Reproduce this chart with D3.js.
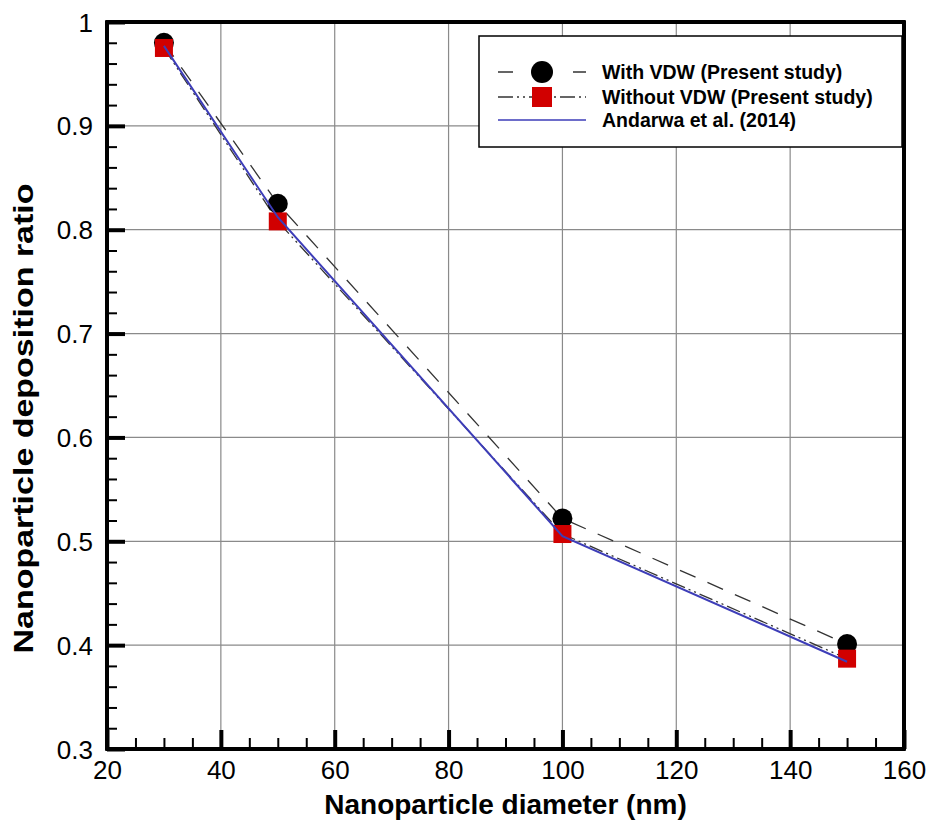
<!DOCTYPE html>
<html>
<head>
<meta charset="utf-8">
<script src="https://cdn.jsdelivr.net/npm/d3@7"></script>
<style>
  html, body { margin: 0; padding: 0; background: #fff; }
  svg { display: block; font-family: "Liberation Sans", Arial, sans-serif; }
</style>
</head>
<body>
<svg id="chart" width="930" height="820"></svg>
<script>
// Data
const diameters = [30, 50, 100, 150];
const withVDW = [0.980, 0.825, 0.522, 0.401];
const withoutVDW = [0.975, 0.808, 0.507, 0.387];
const andarwa = [0.977, 0.812, 0.505, 0.384];
const seriesNames = ["With VDW (Present study)", "Without VDW (Present study)", "Andarwa et al. (2014)"];
const xTicks = [20, 40, 60, 80, 100, 120, 140, 160];
const yTicks = [0.3, 0.4, 0.5, 0.6, 0.7, 0.8, 0.9, 1];
const yTickLabels = ["0.3", "0.4", "0.5", "0.6", "0.7", "0.8", "0.9", "1"];

const svg = d3.select("#chart");
const L = 107, R = 904, T = 22, B = 749;
const x = d3.scaleLinear().domain([20, 160]).range([L, R]);
const y = d3.scaleLinear().domain([0.3, 1]).range([B, T]);

// grid
const grid = svg.append("g");
grid.selectAll("line.gx").data(xTicks.slice(1, -1)).enter().append("line")
  .attr("x1", d => x(d)).attr("x2", d => x(d)).attr("y1", T).attr("y2", B)
  .attr("stroke", "#8a8a8a").attr("stroke-width", 1.2);
grid.selectAll("line.gy").data(yTicks.slice(1, -1)).enter().append("line")
  .attr("y1", d => y(d)).attr("y2", d => y(d)).attr("x1", L).attr("x2", R)
  .attr("stroke", "#8a8a8a").attr("stroke-width", 1.2);

// axes with inward ticks
const xMinor = d3.range(25, 160, 5).filter(v => v % 20 !== 0);
const yMinor = d3.range(0.32, 1.0, 0.02).map(v => +v.toFixed(2)).filter(v => Math.abs(v * 10 - Math.round(v * 10)) > 1e-6);

const xAxisMinor = d3.axisBottom(x).tickValues(xMinor).tickSize(-11).tickFormat("");
const xAxisMajor = d3.axisBottom(x).tickValues(xTicks).tickSize(-19).tickPadding(12).tickFormat(d3.format("d"));
const yAxisMinor = d3.axisLeft(y).tickValues(yMinor).tickSize(-10).tickFormat("");
const yAxisMajor = d3.axisLeft(y).tickValues(yTicks).tickSize(-18).tickPadding(14).tickFormat((d, i) => yTickLabels[i]);

function styleAxis(g) {
  g.select(".domain").remove();
  g.selectAll(".tick line").attr("stroke", "#000").attr("stroke-width", 2);
  g.selectAll("text").attr("font-size", 26).attr("fill", "#000");
}
svg.append("g").attr("transform", `translate(0,${B})`).call(xAxisMinor).call(styleAxis);
const gx = svg.append("g").attr("transform", `translate(0,${B})`).call(xAxisMajor).call(styleAxis);
gx.selectAll(".tick line").attr("stroke-width", 4);
svg.append("g").attr("transform", `translate(${L},0)`).call(yAxisMinor).call(styleAxis);
const gy = svg.append("g").attr("transform", `translate(${L},0)`).call(yAxisMajor).call(styleAxis);
gy.selectAll(".tick line").attr("stroke-width", 4);
gy.selectAll("text").attr("dy", "0.35em");

// frame
svg.append("line").attr("x1", L).attr("x2", L).attr("y1", T - 1.5).attr("y2", B + 1.5).attr("stroke", "#000").attr("stroke-width", 4);
svg.append("line").attr("x1", L - 1.5).attr("x2", R + 1.5).attr("y1", B).attr("y2", B).attr("stroke", "#000").attr("stroke-width", 4);
svg.append("line").attr("x1", L - 1.5).attr("x2", R + 1.5).attr("y1", T).attr("y2", T).attr("stroke", "#000").attr("stroke-width", 4);
svg.append("line").attr("x1", R).attr("x2", R).attr("y1", T - 1.5).attr("y2", B + 1.5).attr("stroke", "#000").attr("stroke-width", 4);

// lines
const line = d3.line().x(d => x(d[0])).y(d => y(d[1]));
const zip = arr => diameters.map((d, i) => [d, arr[i]]);
const blue = "#3d3db8";
const red = "#d10000";

svg.append("path").datum(zip(withVDW)).attr("d", line).attr("fill", "none")
  .attr("stroke", "#333").attr("stroke-width", 1.3).attr("stroke-dasharray", "17,13");
svg.append("path").datum(zip(withoutVDW)).attr("d", line).attr("fill", "none")
  .attr("stroke", "#333").attr("stroke-width", 1.3).attr("stroke-dasharray", "14,4,2,4,2,4");

// markers
svg.selectAll("circle.vdw").data(zip(withVDW)).enter().append("circle")
  .attr("cx", d => x(d[0])).attr("cy", d => y(d[1])).attr("r", 10).attr("fill", "#000");
const sq = 18;
svg.selectAll("rect.novdw").data(zip(withoutVDW)).enter().append("rect")
  .attr("x", d => x(d[0]) - sq / 2).attr("y", d => y(d[1]) - sq / 2)
  .attr("width", sq).attr("height", sq).attr("fill", red);

svg.append("path").datum(zip(andarwa)).attr("d", line).attr("fill", "none")
  .attr("stroke", blue).attr("stroke-width", 2);

// legend
const lg = svg.append("g");
lg.append("rect").attr("x", 479).attr("y", 36).attr("width", 423).attr("height", 111)
  .attr("fill", "#fff").attr("stroke", "#000").attr("stroke-width", 1.5);
const rows = [72, 97, 120];
const lx1 = 498, lx2 = 586, lmid = 542;
lg.append("line").attr("x1", lx1).attr("x2", lx2).attr("y1", rows[0]).attr("y2", rows[0])
  .attr("stroke", "#333").attr("stroke-width", 1.3).attr("stroke-dasharray", "15,60");
lg.append("circle").attr("cx", lmid).attr("cy", rows[0]).attr("r", 11).attr("fill", "#000");
lg.append("line").attr("x1", lx1).attr("x2", lx2).attr("y1", rows[1]).attr("y2", rows[1])
  .attr("stroke", "#333").attr("stroke-width", 1.3).attr("stroke-dasharray", "15,4,2,4,2,4");
lg.append("rect").attr("x", lmid - 10).attr("y", rows[1] - 10).attr("width", 20).attr("height", 20).attr("fill", red);
lg.append("line").attr("x1", lx1).attr("x2", lx2).attr("y1", rows[2]).attr("y2", rows[2])
  .attr("stroke", blue).attr("stroke-width", 1.5);
lg.selectAll("text.lt").data(seriesNames).enter().append("text")
  .attr("x", 602).attr("y", (d, i) => rows[i]).attr("dy", "0.35em")
  .attr("font-size", 19.5).attr("font-weight", "bold").attr("fill", "#000").text(d => d);

// axis titles
svg.append("text").attr("x", (L + R) / 2).attr("y", 814).attr("text-anchor", "middle")
  .attr("font-size", 28).attr("font-weight", "bold").text("Nanoparticle diameter (nm)");
svg.append("text").attr("transform", `translate(33,${(182 + 655) / 2}) rotate(-90)`)
  .attr("text-anchor", "middle").attr("font-size", 28).attr("font-weight", "bold")
  .attr("textLength", 470).attr("lengthAdjust", "spacingAndGlyphs")
  .text("Nanoparticle deposition ratio");
</script>
</body>
</html>
